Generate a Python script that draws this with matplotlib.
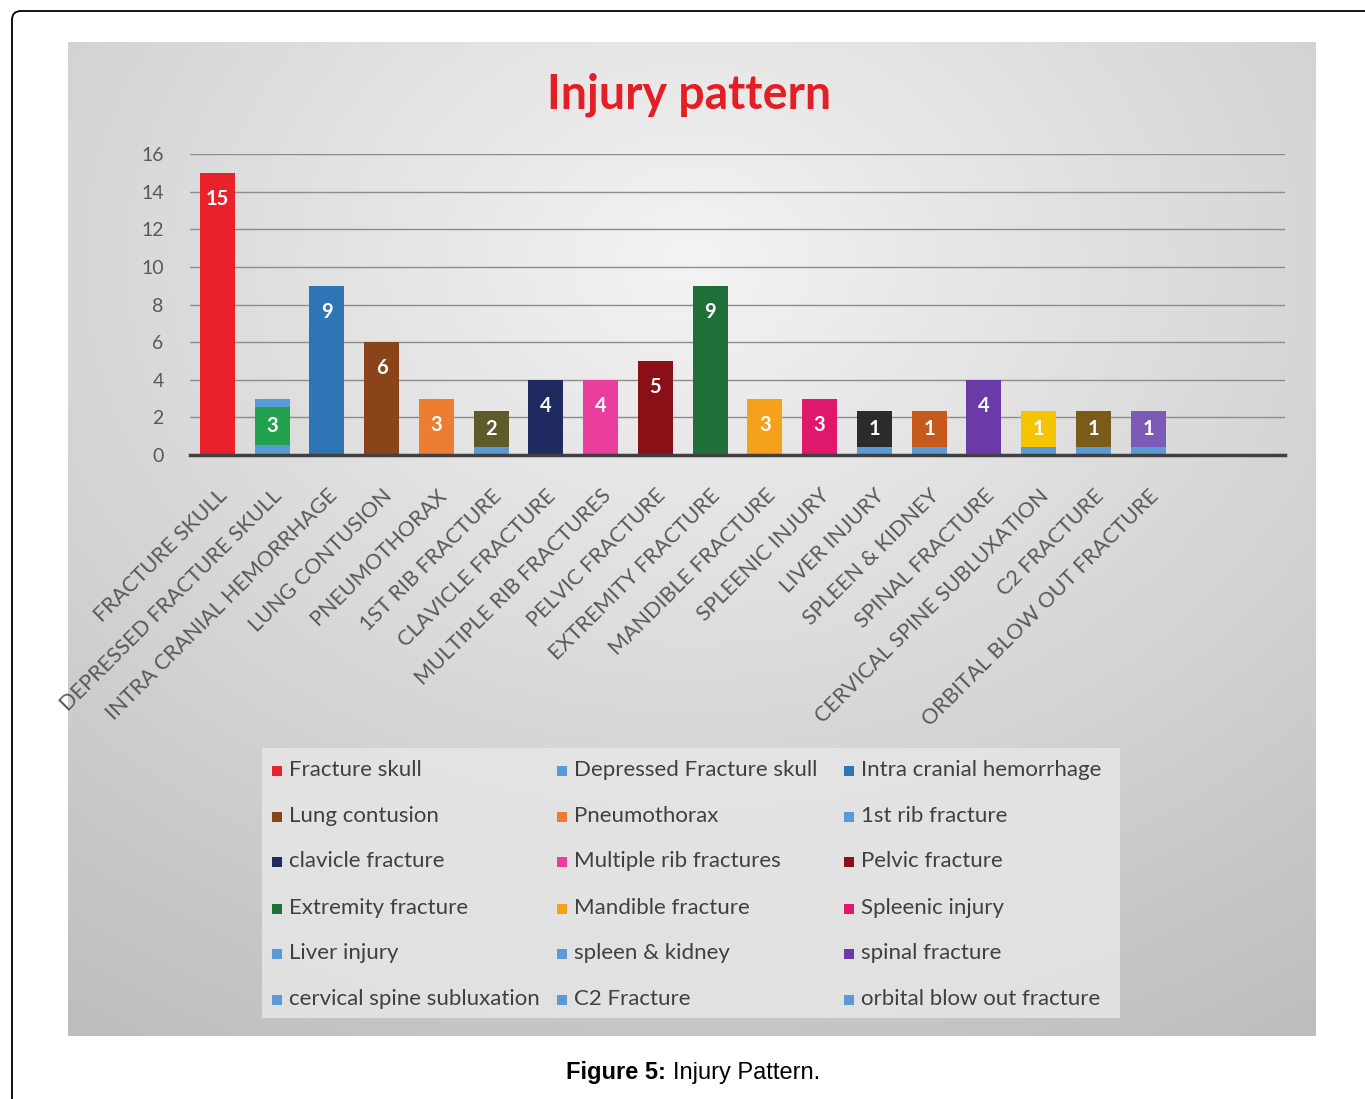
import numpy as np
import matplotlib
matplotlib.use("Agg")
import matplotlib.pyplot as plt
from matplotlib.patches import FancyBboxPatch, Rectangle

# === Data ===
injuries = ["Fracture skull", "Depressed Fracture skull", "Intra cranial hemorrhage",
            "Lung contusion", "Pneumothorax", "1st rib fracture",
            "clavicle fracture", "Multiple rib fractures", "Pelvic fracture",
            "Extremity fracture", "Mandible fracture", "Spleenic injury",
            "Liver injury", "spleen & kidney", "spinal fracture",
            "cervical spine subluxation", "C2 Fracture", "orbital blow out fracture"]
counts = [15, 3, 9, 6, 3, 2, 4, 4, 5, 9, 3, 3, 1, 1, 4, 1, 1, 1]
bar_colors = ["#E8212A", "#5B9BD5", "#2E75B6", "#8A4419", "#ED7D31", "#5B9BD5",
              "#1F2A60", "#E93E9E", "#8B0F16", "#1E7038", "#F5A11C", "#E0186C",
              "#5B9BD5", "#5B9BD5", "#6A3AA8", "#5B9BD5", "#5B9BD5", "#5B9BD5"]

# coloured boxes pasted over the small light-blue bars
box_idx = [1, 5, 12, 13, 15, 16, 17]
box_bottom = [0.55, 0.45, 0.45, 0.45, 0.45, 0.45, 0.45]
box_top = [2.55, 2.35, 2.35, 2.35, 2.35, 2.35, 2.35]
box_colors = ["#22A24C", "#5E5A2A", "#2B2B2B", "#C55A1B", "#F5C400", "#7A5C1A", "#7B5BB5"]

W, H = 1365, 1099
FONT = "Lato"
plt.rcParams["font.family"] = [FONT, "DejaVu Sans"]

fig = plt.figure(figsize=(W / 100, H / 100), dpi=100)

# background layer in pixel coordinates
bg = fig.add_axes([0, 0, 1, 1], zorder=0)
bg.set_xlim(0, W)
bg.set_ylim(H, 0)
bg.axis("off")

# outer frame
bg.add_patch(FancyBboxPatch((12, 11), W + 40, H + 40,
                            boxstyle="round,pad=0,rounding_size=9",
                            fc="white", ec="black", lw=1.3))

# grey gradient panel behind the chart
px0, px1, py0, py1 = 68, 1316, 42, 1036
gx, gy = np.meshgrid(np.linspace(0, 1, 300), np.linspace(0, 1, 300))
r = np.sqrt((gx - 0.5) ** 2 + (gy - 0.22) ** 2)
shade = np.clip(0.955 - 0.23 * r, 0, 1)
bg.imshow(np.dstack([shade] * 3), extent=[px0, px1, py1, py0], aspect="auto",
          interpolation="bilinear", zorder=1)

# legend area
bg.add_patch(Rectangle((262, 748), 858, 270, fc="#e6e6e6", ec="none", alpha=0.85, zorder=2))

# === Bar chart ===
ax = fig.add_axes([190 / W, 1 - 455 / H, 1095 / W, 301 / H], zorder=2)
ax.patch.set_alpha(0)
x = np.arange(len(counts))
bw = 0.64
ax.bar(x, counts, width=bw, color=bar_colors, zorder=2)
for i, b, t, c in zip(box_idx, box_bottom, box_top, box_colors):
    ax.bar(i, t - b, bottom=b, width=bw, color=c, zorder=3)

# value labels
box_map = {i: (b + t) / 2 for i, b, t in zip(box_idx, box_bottom, box_top)}
for i, v in enumerate(counts):
    if i in box_map:
        ax.text(i, box_map[i], str(v), ha="center", va="center", color="white",
                fontsize=14.5, fontweight="bold", zorder=4)
    else:
        ax.annotate(str(v), (i, v), xytext=(0, -26), textcoords="offset pixels",
                    ha="center", va="center", color="white", fontsize=14.5,
                    fontweight="bold", zorder=4)

ax.set_xlim(-0.5, 19.5)
ax.set_ylim(0, 16)
ax.set_yticks(range(0, 17, 2))
ax.yaxis.grid(True, color="#8c8c8c", lw=1.0)
ax.set_axisbelow(True)
for s in ["top", "right", "left"]:
    ax.spines[s].set_visible(False)
ax.spines["bottom"].set_color("#404040")
ax.spines["bottom"].set_linewidth(2.5)
ax.tick_params(axis="y", length=0, pad=19, labelsize=14, labelcolor="#595959")
ax.tick_params(axis="x", length=0, pad=22, labelsize=15.5, labelcolor="#595959")
ax.set_xticks(x)
ax.set_xticklabels([n.upper() for n in injuries], rotation=45, ha="right",
                   rotation_mode="anchor")

# title
fig.text(689 / W, 1 - 95 / H, "Injury pattern", ha="center", va="center",
         color="#E31E24", fontsize=33.5, fontweight="bold")

# === Legend (row-major, 3 columns) ===
col_x = [277, 562, 849]
row_y = [770, 816, 861, 908, 953, 999]
for k, (name, c) in enumerate(zip(injuries, bar_colors)):
    cx = col_x[k % 3]
    cy = row_y[k // 3]
    bg.add_patch(Rectangle((cx - 5, cy - 4), 10, 10, fc=c, ec="none", zorder=3))
    bg.text(cx + 12, cy, name, ha="left", va="center", fontsize=16,
            color="#404040", zorder=3)

# caption
fig.text(666 / W, 1 - 1073 / H, "Figure 5:", ha="right", va="center",
         family="Liberation Sans", fontweight="bold", fontsize=17, color="black")
fig.text(673 / W, 1 - 1073 / H, "Injury Pattern.", ha="left", va="center",
         family="Liberation Sans", fontsize=17, color="black")

fig.savefig("out.png", dpi=100)
